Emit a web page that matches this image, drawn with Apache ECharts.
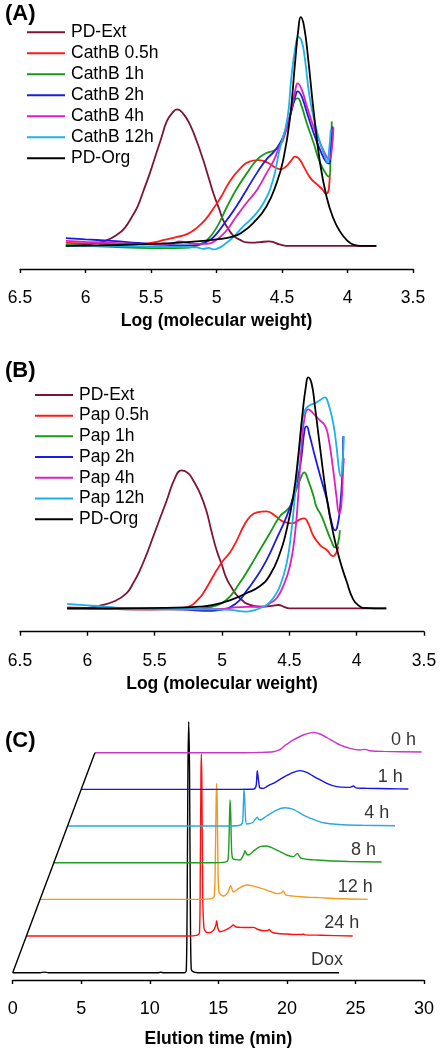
<!DOCTYPE html>
<html><head><meta charset="utf-8">
<script src="https://cdn.jsdelivr.net/npm/echarts@6/dist/echarts.min.js"></script>
<style>html,body{margin:0;padding:0;background:#fff}#c{width:442px;height:1050px}</style>
</head><body><div id="c"></div>
<script>
// ---------- Panel A : Cathepsin B digestion, [log MW, intensity (a.u.)] ----------
const namesA = ['PD-Ext','CathB 0.5h','CathB 1h','CathB 2h','CathB 4h','CathB 12h','PD-Org'];
const extA = [[6.15,0.3],[6.05,0.8],[5.95,2],[5.85,5],[5.75,12],[5.70,18],[5.65,28],[5.60,40],[5.56,54],[5.51,72],[5.46,92],[5.42,108],[5.38,124],[5.34,132],[5.30,136],[5.25,131],[5.20,120],[5.15,104],[5.10,85],[5.06,68],[5.02,51],[4.98,37],[4.95,26],[4.91,17],[4.87,10],[4.82,6],[4.77,3.5],[4.72,3.2],[4.67,3.7],[4.60,4.5],[4.56,3.5],[4.52,1.5],[4.44,0],[3.78,0]];
const redA = [[6.15,3],[6.0,2.5],[5.85,2],[5.7,1.5],[5.58,2],[5.48,3.5],[5.4,6],[5.3,9],[5.22,12],[5.15,18],[5.08,27],[5.02,38],[4.96,50],[4.9,64],[4.82,77],[4.75,84],[4.68,85.5],[4.61,83],[4.55,78],[4.51,76.5],[4.47,79],[4.43,85],[4.40,89],[4.37,87],[4.33,78],[4.28,67],[4.23,61],[4.19,56],[4.165,52],[4.15,53],[4.14,60],[4.135,72]];
const greenA = [[6.15,1],[6.0,0],[5.8,-1],[5.6,-2],[5.4,-2.2],[5.25,-2],[5.18,-1],[5.12,2],[5.07,6],[5.0,18],[4.92,39],[4.85,56],[4.77,72],[4.69,86],[4.62,92.5],[4.56,95],[4.53,99],[4.49,109],[4.44,129],[4.40,146],[4.38,147],[4.35,139],[4.31,122],[4.26,103],[4.21,83],[4.16,71],[4.14,69],[4.13,85],[4.12,124]];
const blueA = [[6.15,7.7],[6.0,6.5],[5.8,5],[5.6,3],[5.45,1.5],[5.3,0.5],[5.18,0.5],[5.12,1.5],[5.05,6],[5.0,12],[4.92,26],[4.85,39],[4.77,56],[4.69,73],[4.62,86],[4.56,94],[4.53,99],[4.49,109],[4.44,129],[4.40,148],[4.38,154],[4.35,149],[4.31,133],[4.26,113],[4.21,96],[4.16,83],[4.14,82],[4.128,96],[4.113,119]];
const magA = [[6.15,5],[6.0,4],[5.8,3],[5.6,2],[5.45,1],[5.35,2],[5.28,4.5],[5.22,3],[5.12,2],[5.07,2],[5.0,6],[4.92,16],[4.85,29],[4.77,43],[4.69,56],[4.62,72],[4.56,86],[4.52,99],[4.49,106],[4.44,129],[4.40,154],[4.38,162],[4.35,156],[4.31,139],[4.26,119],[4.21,103],[4.16,89],[4.14,86],[4.12,96],[4.108,118]];
const cyanA = [[6.15,0],[5.9,0],[5.6,-0.5],[5.3,-1],[5.15,-1.5],[5.1,-3],[5.06,-2],[5.02,-3.5],[4.99,-2.5],[4.95,0.5],[4.87,9],[4.80,19],[4.72,29],[4.64,43],[4.57,65],[4.52,95],[4.46,126],[4.43,166],[4.40,196],[4.375,208],[4.35,204],[4.325,186],[4.29,149],[4.25,123],[4.21,103],[4.17,88],[4.155,83],[4.14,96],[4.128,116]];
const orgA = [[6.15,0],[5.9,0.5],[5.6,1.5],[5.4,2.5],[5.2,4],[5.0,6.5],[4.87,9.5],[4.8,14],[4.72,22.7],[4.62,39],[4.54,63],[4.49,86],[4.44,126],[4.40,183],[4.375,216],[4.357,228],[4.332,219],[4.30,186],[4.26,136],[4.21,83],[4.16,49],[4.11,28],[4.06,15],[4.0,5],[3.95,1],[3.9,0],[3.78,0]];

// ---------- Panel B : Papain digestion ----------
const namesB = ['PD-Ext','Pap 0.5h','Pap 1h','Pap 2h','Pap 4h','Pap 12h','PD-Org'];
const extB = [[6.15,0],[6.0,0.5],[5.9,3],[5.8,7],[5.71,15],[5.66,25],[5.61,38],[5.56,54],[5.51,72],[5.46,90],[5.41,108],[5.35,130],[5.30,138],[5.25,135],[5.21,127],[5.16,114],[5.115,97],[5.08,78],[5.04,58],[5.00,43],[4.97,31],[4.93,21],[4.89,13],[4.85,8],[4.82,5],[4.72,1.6],[4.63,2.5],[4.58,3.3],[4.54,1.5],[4.50,0],[3.78,0]];
const redB = [[6.15,1],[5.9,0],[5.6,-1],[5.4,-0.5],[5.3,0.5],[5.24,2],[5.17,10],[5.14,15],[5.07,31],[5.04,38],[4.99,48],[4.94,56],[4.89,68],[4.84,82],[4.79,92],[4.74,96],[4.67,97],[4.60,92],[4.55,87],[4.48,85],[4.42,89],[4.39,90],[4.36,85],[4.32,72],[4.27,63],[4.22,58],[4.175,52],[4.15,56],[4.137,62]];
const greenB = [[6.15,0],[5.9,-0.5],[5.6,-1],[5.3,-1],[5.15,0],[5.07,1.6],[4.97,8],[4.87,25],[4.79,42],[4.72,58],[4.645,75],[4.57,92],[4.52,98],[4.48,105],[4.45,118],[4.41,132],[4.39,136],[4.36,128],[4.32,112],[4.30,102],[4.26,92],[4.22,78],[4.19,68],[4.16,61],[4.14,64],[4.125,78]];
const blueB = [[6.15,0.5],[5.9,0],[5.6,-0.5],[5.3,-1],[5.2,-2],[5.1,-2.5],[5.04,-2],[4.99,-1],[4.94,1],[4.87,8],[4.82,17],[4.74,32],[4.67,48],[4.60,68],[4.52,92],[4.47,112],[4.42,142],[4.385,180],[4.372,182],[4.35,173],[4.31,152],[4.27,132],[4.22,108],[4.19,88],[4.16,78],[4.145,81],[4.125,98],[4.105,138],[4.10,172]];
const magB = [[6.15,0],[5.9,-0.5],[5.6,-1],[5.3,-1],[5.0,-0.5],[4.9,1],[4.82,1.5],[4.69,1.6],[4.645,5],[4.595,10],[4.546,22],[4.496,42],[4.46,72],[4.434,112],[4.41,162],[4.385,192],[4.36,199],[4.323,195],[4.273,188],[4.236,183],[4.211,172],[4.174,138],[4.15,112],[4.13,95],[4.115,102],[4.10,140],[4.095,150]];
const cyanB = [[6.15,4.3],[6.0,3],[5.85,1.5],[5.71,0],[5.4,-0.5],[5.1,-1],[4.94,-1.6],[4.82,-3.3],[4.75,-1.5],[4.72,0],[4.67,3.3],[4.62,10],[4.57,22],[4.52,45],[4.484,78],[4.459,112],[4.434,148],[4.41,182],[4.385,198],[4.348,203],[4.31,205],[4.273,208],[4.236,211],[4.211,205],[4.174,185],[4.15,162],[4.13,138],[4.117,132],[4.105,145],[4.095,172]];
const orgB = [[6.15,0],[5.8,0],[5.41,0.5],[5.165,1.6],[5.066,3.3],[4.942,8],[4.82,15],[4.72,22],[4.645,33],[4.57,55],[4.521,78],[4.471,112],[4.434,152],[4.402,195],[4.377,222],[4.36,231],[4.335,225],[4.31,202],[4.273,162],[4.224,112],[4.174,75],[4.125,48],[4.075,27],[4.026,9],[3.977,2],[3.95,0.5],[3.78,0]];

// ---------- Panel C : HPLC chromatograms, [elution time (min), intensity (a.u.)] ----------
const namesC = ['Dox','24 h','12 h','8 h','4 h','1 h','0 h'];
const doxC = [[0,0],[2.0,0],[2.3,0.6],[2.6,0],[10.6,0],[10.8,0.5],[11.0,0],[12.55,0],[12.66,2],[12.72,60],[12.78,200],[12.84,251],[12.90,200],[12.96,60],[13.02,4],[13.15,1],[13.5,0],[23.8,0]];
const h24C = [[0,0],[11.8,0],[12.4,0.7],[12.62,3],[12.68,60],[12.73,160],[12.76,182],[12.80,150],[12.86,40],[12.95,8],[13.1,4],[13.26,3.3],[13.6,5],[13.8,10],[13.88,15.3],[13.96,8],[14.12,4.3],[14.5,6],[14.9,9],[15.09,11],[15.3,9],[15.58,8.7],[16.1,8.5],[16.55,8.7],[16.9,6.5],[17.28,5.3],[17.6,5.5],[17.72,6.7],[17.85,4.5],[18.0,3.3],[18.5,2.3],[18.98,2],[19.6,1.5],[20.1,1.5],[20.2,2],[20.3,1.2],[21.5,0.8],[23.8,0]];
const h12C = [[0,0],[11.5,0],[12.5,0.7],[12.7,3],[12.78,40],[12.84,100],[12.88,116],[12.92,95],[12.98,25],[13.05,6.7],[13.2,4.5],[13.36,3.3],[13.7,7],[13.9,14],[14.0,10],[14.09,7.3],[14.5,11],[15.07,14.3],[15.55,13.3],[16.0,11.5],[16.52,9.3],[17.0,7],[17.25,5.7],[17.6,6.5],[17.74,8.3],[17.85,5.5],[17.98,4],[18.5,3.2],[18.95,2.7],[19.7,2],[20.41,1.7],[21.5,0.8],[23.89,0]];
const h8C = [[0,0],[11.5,0],[12.5,0.6],[12.7,2.5],[12.78,25],[12.85,62.7],[12.9,50],[12.96,15],[13.04,4.3],[13.3,3],[13.58,2.7],[13.85,8],[13.94,12],[14.05,9],[14.19,7.7],[14.6,12],[15.04,16],[15.52,16.7],[16.01,14.3],[16.5,11],[16.98,7.7],[17.47,6],[17.76,9.3],[17.9,6.5],[18.08,4.3],[18.6,3.2],[19.17,2.7],[20.39,1.7],[21.5,1.2],[23.91,0.7]];
const h4C = [[0,0],[11.5,0],[12.5,0.5],[12.75,3],[12.82,20],[12.87,37],[12.92,28],[12.98,8],[13.07,2],[13.5,3.5],[13.84,8.7],[13.95,6.5],[14.04,6],[14.52,10],[15.25,16],[15.86,18.3],[16.47,16.7],[17.2,11],[17.93,6.7],[18.66,3.3],[19.39,2],[20.12,1.3],[21.5,0.8],[23.88,0.3]];
const h1C = [[0,0],[11.5,0],[12.6,0.4],[12.76,4],[12.84,18.7],[12.92,10],[13.0,2],[13.04,1.3],[13.28,1],[13.5,2.5],[13.77,4.7],[14.01,6],[14.74,12],[15.47,17],[15.95,18.7],[16.44,17],[17.17,11.3],[17.9,6],[18.63,2.7],[19.4,2],[19.6,2],[19.85,3.3],[20.05,1.5],[20.82,1],[22.5,0.6],[23.86,0.3]];
const h0C = [[0,0],[11,0],[12.04,0.3],[13.01,1],[13.4,2.5],[13.62,4.3],[13.86,7.3],[13.98,8.3],[14.47,12.7],[15.2,17.7],[15.93,20.3],[16.41,18.7],[17.15,13.3],[17.87,7.7],[18.6,4.3],[19.33,2.7],[19.69,3.3],[20.06,2],[21.03,1.3],[23.83,0.7]];

// ---------- layout / style ----------
const FONT = "'Liberation Sans', Arial, sans-serif";
const colAB = ['#7D1336','#FF1A1A','#149A14','#1C1CE0','#DD1FC4','#1AB2EA','#000000'];
const colC = ['#000000','#FF1111','#F39A1E','#1E9E1E','#2AA8E0','#1515E6','#CC33CC'];
const shiftX = 1;       // waterfall x shift per trace (min)
const shiftY = 36.67;   // waterfall y shift per trace (a.u.)
const labelRightC = [24.1, 25.28, 26.26, 26.5, 27.47, 28.45, 29.42];
const labelRaise = 12.5;

const dataA = [extA, redA, greenA, blueA, magA, cyanA, orgA];
const dataB = [extB, redB, greenB, blueB, magB, cyanB, orgB];
const dataC = [doxC, h24C, h12C, h8C, h4C, h1C, h0C];

function xAxisCfg(idx, min, max, inverse, name, nameGap, labSize) {
  return {
    gridIndex: idx, type: 'value', min: min, max: max, interval: inverse ? 0.5 : 5, inverse: inverse,
    axisLine: { show: true, onZero: false, lineStyle: { color: '#000', width: 1.4 } },
    axisTick: { show: true, inside: false, length: 4, lineStyle: { color: '#000', width: 1.4 } },
    splitLine: { show: false },
    axisLabel: { color: '#000', fontFamily: FONT, fontSize: labSize, margin: 20, showMinLabel: true, showMaxLabel: true, hideOverlap: false },
    name: name, nameLocation: 'middle', nameGap: nameGap,
    nameTextStyle: { color: '#000', fontFamily: FONT, fontSize: 17.5, fontWeight: 'bold' }
  };
}
function yAxisCfg(idx, min, max) {
  return { gridIndex: idx, type: 'value', min: min, max: max, show: false, splitLine: { show: false } };
}
function lineSeries(name, data, color, axis, width, smooth) {
  return {
    type: 'line', name: name, data: data, xAxisIndex: axis, yAxisIndex: axis,
    symbol: 'none', showSymbol: false, smooth: smooth, clip: false,
    lineStyle: { color: color, width: width }, itemStyle: { color: color },
    silent: true, animation: false
  };
}

const series = [];
namesA.forEach((n, i) => series.push(lineSeries(n, dataA[i], colAB[i], 0, 1.8, 0.5)));
namesB.forEach((n, i) => series.push(lineSeries(n, dataB[i], colAB[i], 1, 1.8, 0.5)));
dataC.forEach((d, k) => {
  const shifted = d.map(p => [p[0] + k * shiftX, p[1] + k * shiftY]);
  series.push(lineSeries(namesC[k], shifted, colC[k], 2, 1.4, 0.25));
});
// slanted base line joining the starts of the stacked traces
series.push(lineSeries('base', dataC.map((d, k) => [d[0][0] + k * shiftX, d[0][1] + k * shiftY]), '#000', 2, 1.4, false));
// trace labels
series.push({
  type: 'scatter', xAxisIndex: 2, yAxisIndex: 2, symbolSize: 0, silent: true, animation: false,
  data: namesC.map((n, k) => ({ value: [labelRightC[k], k * shiftY + labelRaise], name: n })),
  label: { show: true, position: 'left', distance: 0, formatter: p => p.name, color: '#000', fontFamily: FONT, fontSize: 18 }
});

function legendCfg(names, colors, left, top, lh) {
  return {
    data: names.map((n, i) => ({ name: n, icon: 'rect', itemStyle: { color: colors[i] } })),
    orient: 'vertical', left: left, top: top, itemWidth: 38, itemHeight: 2, itemGap: 0,
    padding: 0, selectedMode: false,
    textStyle: { color: '#000', fontFamily: FONT, fontSize: 17.5, lineHeight: lh, padding: [0, 0, 0, 1] }
  };
}

const option = {
  backgroundColor: '#fff',
  animation: false,
  title: [
    { text: '(A)', left: 5, top: 3, padding: 0, textStyle: { fontFamily: FONT, fontSize: 22, fontWeight: 'bold', color: '#000' } },
    { text: '(B)', left: 5, top: 360, padding: 0, textStyle: { fontFamily: FONT, fontSize: 22, fontWeight: 'bold', color: '#000' } },
    { text: '(C)', left: 5, top: 730, padding: 0, textStyle: { fontFamily: FONT, fontSize: 22, fontWeight: 'bold', color: '#000' } }
  ],
  legend: [
    legendCfg(namesA, colAB, 27, 21.8, 21),
    legendCfg(namesB, colAB, 35, 384.6, 20.7)
  ],
  grid: [
    { left: 20, right: 29, top: 10, bottom: 781 },
    { left: 20, right: 18, top: 370, bottom: 418.3 },
    { left: 12.7, right: 18, top: 720, bottom: 70 }
  ],
  xAxis: [
    xAxisCfg(0, 3.5, 6.5, true, 'Log (molecular weight)', 43, 17.5),
    xAxisCfg(1, 3.5, 6.5, true, 'Log (molecular weight)', 43, 17.5),
    xAxisCfg(2, 0, 30, false, 'Elution time (min)', 50, 18)
  ],
  yAxis: [yAxisCfg(0, -23, 235), yAxisCfg(1, -23.4, 238.3), yAxisCfg(2, -7.3, 252.7)],
  series: series
};
const chart = echarts.init(document.getElementById('c'), null, { renderer: 'canvas' });
chart.setOption(option);
</script></body></html>
